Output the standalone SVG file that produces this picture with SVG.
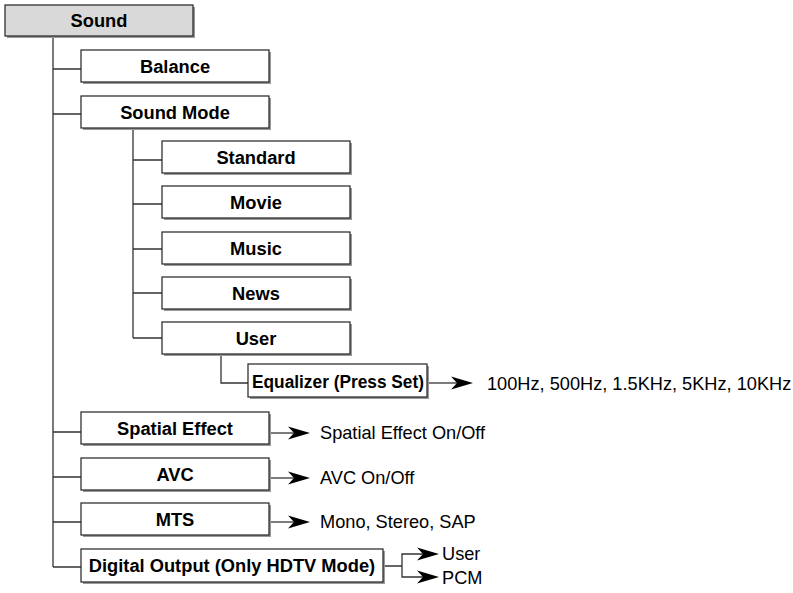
<svg xmlns="http://www.w3.org/2000/svg" width="793" height="593" viewBox="0 0 793 593">
<style>
.box{fill:#fff;stroke:#222;stroke-width:1.2}
.root{fill:#d9d9d9;stroke:#222;stroke-width:1.2}
.sh{fill:#999}
.lbl{font-family:"Liberation Sans",Arial,sans-serif;font-weight:bold;font-size:18.3px;fill:#000;text-anchor:middle}
.opt{font-family:"Liberation Sans",Arial,sans-serif;font-size:18.2px;fill:#000}
.ln{stroke:#333;stroke-width:1.3;fill:none}
.ah{fill:#000}
</style>
<defs>
<path id="ah" d="M-22,-6.5 L0,0 L-22,6.5 L-16,0 Z"/>
</defs>
<g id="connectors">
<path class="ln" d="M53,37 V567"/>
<path class="ln" d="M53,69 H81 M53,114 H81 M53,432 H81 M53,477 H81 M53,522 H81 M53,567 H81"/>
<path class="ln" d="M133,129 V338"/>
<path class="ln" d="M133,160 H162 M133,204 H162 M133,249 H162 M133,293 H162 M133,338 H162"/>
<path class="ln" d="M221,354 V383 H248"/>
<path class="ln" d="M427,383 H458"/>
<use href="#ah" class="ah" x="473" y="383"/>
<path class="ln" d="M271,433 H295"/>
<use href="#ah" class="ah" x="310" y="433"/>
<path class="ln" d="M271,478 H295"/>
<use href="#ah" class="ah" x="310" y="478"/>
<path class="ln" d="M271,522 H295"/>
<use href="#ah" class="ah" x="310" y="522"/>
<path class="ln" d="M385,566 H402 V554 H424 M402,566 V577 H424"/>
<use href="#ah" class="ah" x="439" y="554"/>
<use href="#ah" class="ah" x="439" y="577"/>
</g>
<g id="sound"><rect class="sh" x="7" y="7" width="188" height="31"/><rect class="root" x="5" y="5" width="188" height="31"/><text class="lbl" x="99" y="27">Sound</text></g>
<g id="balance"><rect class="sh" x="83" y="52" width="188" height="32"/><rect class="box" x="81" y="50" width="188" height="32"/><text class="lbl" x="175" y="73">Balance</text></g>
<g id="soundmode"><rect class="sh" x="83" y="98" width="188" height="32"/><rect class="box" x="81" y="96" width="188" height="32"/><text class="lbl" x="175" y="119">Sound Mode</text></g>
<g id="standard"><rect class="sh" x="164" y="143" width="188" height="32"/><rect class="box" x="162" y="141" width="188" height="32"/><text class="lbl" x="256" y="164">Standard</text></g>
<g id="movie"><rect class="sh" x="164" y="188" width="188" height="32"/><rect class="box" x="162" y="186" width="188" height="32"/><text class="lbl" x="256" y="209">Movie</text></g>
<g id="music"><rect class="sh" x="164" y="234" width="188" height="32"/><rect class="box" x="162" y="232" width="188" height="32"/><text class="lbl" x="256" y="255">Music</text></g>
<g id="news"><rect class="sh" x="164" y="279" width="188" height="32"/><rect class="box" x="162" y="277" width="188" height="32"/><text class="lbl" x="256" y="300">News</text></g>
<g id="user"><rect class="sh" x="164" y="324" width="188" height="32"/><rect class="box" x="162" y="322" width="188" height="32"/><text class="lbl" x="256" y="345">User</text></g>
<g id="equalizer"><rect class="sh" x="250" y="366" width="179" height="33"/><rect class="box" x="248" y="364" width="179" height="33"/><text class="lbl" x="338" y="388" textLength="172" lengthAdjust="spacingAndGlyphs">Equalizer (Press Set)</text></g>
<g id="eq-values"><text class="opt" x="487" y="390">100Hz, 500Hz, 1.5KHz, 5KHz, 10KHz</text></g>
<g id="spatial"><rect class="sh" x="83" y="414" width="188" height="32"/><rect class="box" x="81" y="412" width="188" height="32"/><text class="lbl" x="175" y="435">Spatial Effect</text></g>
<g id="spatial-values"><text class="opt" x="320" y="439">Spatial Effect On/Off</text></g>
<g id="avc"><rect class="sh" x="83" y="460" width="188" height="32"/><rect class="box" x="81" y="458" width="188" height="32"/><text class="lbl" x="175" y="481">AVC</text></g>
<g id="avc-values"><text class="opt" x="320" y="484">AVC On/Off</text></g>
<g id="mts"><rect class="sh" x="83" y="505" width="188" height="32"/><rect class="box" x="81" y="503" width="188" height="32"/><text class="lbl" x="175" y="526">MTS</text></g>
<g id="mts-values"><text class="opt" x="320" y="528">Mono, Stereo, SAP</text></g>
<g id="digital"><rect class="sh" x="83" y="551" width="302" height="33"/><rect class="box" x="81" y="549" width="302" height="33"/><text class="lbl" x="232" y="572">Digital Output (Only HDTV Mode)</text></g>
<g id="digital-values"><text class="opt" x="442" y="560">User</text><text class="opt" x="442" y="584">PCM</text></g>
</svg>
